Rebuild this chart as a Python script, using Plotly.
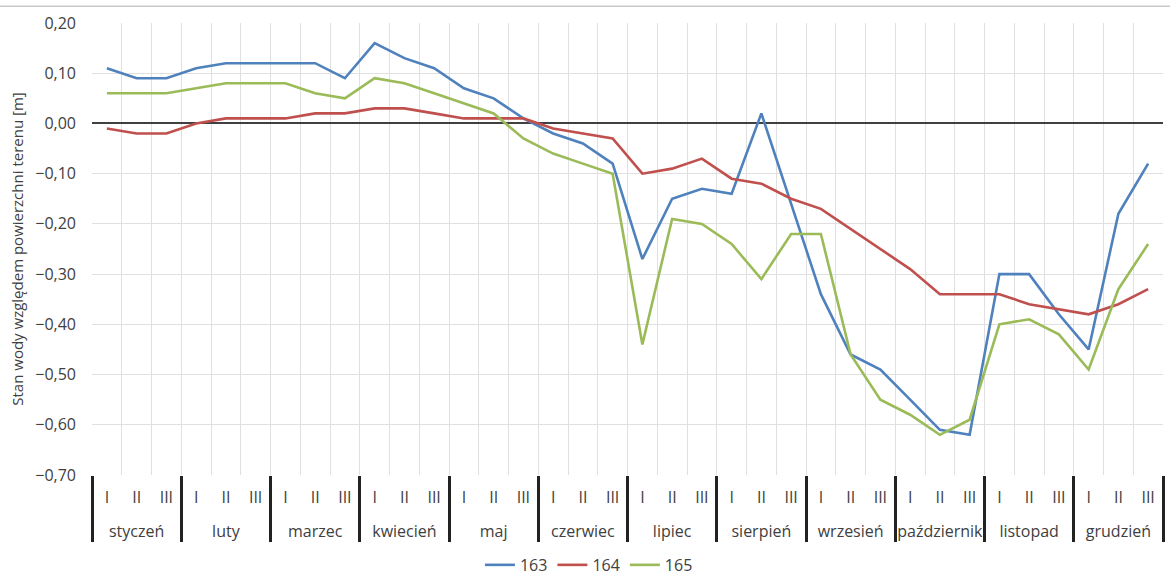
import plotly.graph_objects as go

months = ["styczeń", "luty", "marzec", "kwiecień", "maj", "czerwiec",
          "lipiec", "sierpień", "wrzesień", "październik", "listopad", "grudzień"]
decades = ["I", "II", "III"]

s163 = [0.11, 0.09, 0.09, 0.11, 0.12, 0.12, 0.12, 0.12, 0.09, 0.16, 0.13, 0.11,
        0.07, 0.05, 0.01, -0.02, -0.04, -0.08, -0.27, -0.15, -0.13, -0.14, 0.02, -0.16,
        -0.34, -0.46, -0.49, -0.55, -0.61, -0.62, -0.30, -0.30, -0.38, -0.45, -0.18, -0.08]
s164 = [-0.01, -0.02, -0.02, 0.00, 0.01, 0.01, 0.01, 0.02, 0.02, 0.03, 0.03, 0.02,
        0.01, 0.01, 0.01, -0.01, -0.02, -0.03, -0.10, -0.09, -0.07, -0.11, -0.12, -0.15,
        -0.17, -0.21, -0.25, -0.29, -0.34, -0.34, -0.34, -0.36, -0.37, -0.38, -0.36, -0.33]
s165 = [0.06, 0.06, 0.06, 0.07, 0.08, 0.08, 0.08, 0.06, 0.05, 0.09, 0.08, 0.06,
        0.04, 0.02, -0.03, -0.06, -0.08, -0.10, -0.44, -0.19, -0.20, -0.24, -0.31, -0.22,
        -0.22, -0.46, -0.55, -0.58, -0.62, -0.59, -0.40, -0.39, -0.42, -0.49, -0.33, -0.24]

series_names = ["163", "164", "165"]
colors = ["#4F81BD", "#C0504D", "#9BBB59"]

# inner tick labels get an empty second line so the month row sits lower, as in the reference
x_outer = [m for m in months for _ in decades]
x_inner = [d + "<br>\u00a0" for _ in months for d in decades]

fig = go.Figure()
for name, vals, col in zip(series_names, [s163, s164, s165], colors):
    fig.add_trace(go.Scatter(x=[x_outer, x_inner], y=vals, mode="lines", name=name,
                             line=dict(color=col, width=2.6)))

font = "Open Sans, Liberation Sans, sans-serif"
txt = "#404040"
fig.update_layout(
    width=1170, height=578,
    margin=dict(l=92, r=7, t=23, b=103, autoexpand=False),
    paper_bgcolor="white", plot_bgcolor="white",
    separators=", ",
    font=dict(family=font, size=15, color=txt),
    showlegend=True,
    legend=dict(orientation="h", x=0.464, xanchor="center", y=-0.199, yanchor="middle",
                font=dict(size=16, color=txt), traceorder="normal"),
    xaxis=dict(type="multicategory", tickson="boundaries", showgrid=True,
               range=[-0.5, 35.5], automargin=False,
               gridcolor="#E0E0E0", gridwidth=1, showline=False,
               dividercolor="#222222", dividerwidth=2.5, ticks="",
               ticklabelstandoff=11,
               tickfont=dict(size=16, color=txt)),
    yaxis=dict(range=[-0.70, 0.20], dtick=0.10, tickformat=".2f", automargin=False,
               showgrid=True, gridcolor="#E0E0E0", gridwidth=1,
               zeroline=True, zerolinecolor="#404040", zerolinewidth=1.5,
               showline=False, ticks="", ticklabelstandoff=15,
               tickfont=dict(size=16, color=txt),
               title=dict(text="Stan wody względem powierzchni terenu [m]",
                          font=dict(size=15, color=txt), standoff=8)),
    shapes=[dict(type="line", xref="paper", yref="paper", x0=-0.1, x1=1.1, y0=1.037, y1=1.037,
                 line=dict(color="#C8C8C8", width=1.5))],
)

fig.write_html("out.html", config={"displayModeBar": False},
               post_script="document.body.style.margin='0';")
